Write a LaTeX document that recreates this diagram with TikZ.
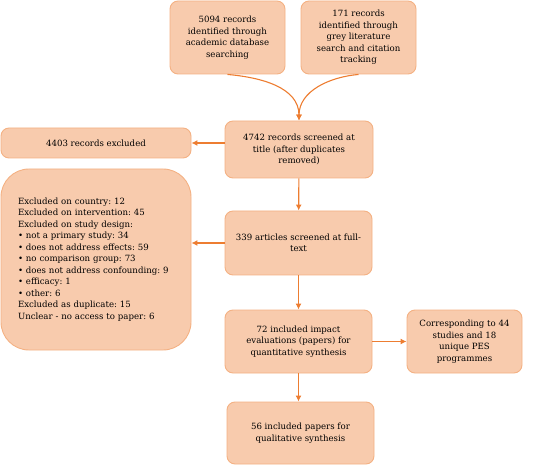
\documentclass[tikz,border=0pt]{standalone}
\usepackage{fontspec}
\setmainfont{DejaVu Serif}
\usepackage{tikz}
\usetikzlibrary{calc,positioning,arrows.meta}
\definecolor{peach}{HTML}{F8CBAD}
\definecolor{peachline}{HTML}{F4B183}
\definecolor{arrorange}{HTML}{ED7D31}
\frenchspacing

\begin{document}
\begin{tikzpicture}[x=1pt,y=-1pt, font=\fontsize{8.6}{11.5}\selectfont,
  box/.style={draw=peachline,fill=peach,line width=0.9pt,rounded corners=8pt,align=center,inner sep=2pt},
  arr/.style={draw=arrorange,line width=1.1pt,-{Latex[length=6pt,width=6pt]}}]
              \useasboundingbox (0,0) rectangle (533,465);
              \node[box,minimum width=115,minimum height=73] (rec1) at (227.5,37.5) {5094 records\\identified through\\academic database\\searching};
              \node[box,minimum width=115,minimum height=73] (rec2) at (358.5,37.5) {171 records\\identified through\\grey literature\\search and citation\\tracking};

              \node[box,minimum width=148,minimum height=57] (screen) at (299,149.5) {4742 records screened at\\title (after duplicates\\removed)};
              \node[box,minimum width=190,minimum height=30] (excl) at (96,143) {4403 records excluded};

              \node[box,rounded corners=28pt,minimum width=190,minimum height=181,text width=156,align=left] (exclfull) at (96,259.5) {Excluded on country: 12\\
                Excluded on intervention: 45\\
                Excluded on study design:\\
                \textbullet\ not a primary study: 34\\
                \textbullet\ does not address effects: 59\\
                \textbullet\ no comparison group: 73\\
                \textbullet\ does not address confounding: 9\\
                \textbullet\ efficacy: 1\\
                \textbullet\ other: 6\\
                Excluded as duplicate: 15\\
                Unclear - no access to paper: 6};

              \node[box,minimum width=147,minimum height=64] (full) at (298.5,243) {339 articles screened at full-\\text};
              \node[box,minimum width=147,minimum height=63] (incl) at (298.5,341.5) {72 included impact\\evaluations (papers) for\\quantitative synthesis};
              \node[box,minimum width=115,minimum height=63] (corr) at (464.5,341.5) {Corresponding to 44\\studies and 18\\unique PES\\programmes};
              \node[box,minimum width=147,minimum height=62] (qual) at (300.5,433) {56 included papers for\\qualitative synthesis};

              \draw[arr] (rec1.south) to[out=-5,in=90] (screen.north);
              \draw[arr] (rec2.south) to[out=185,in=90] (screen.north);
              \draw[arr] (screen.west |- excl.east) -- (excl.east);
              \draw[arr] (screen) -- (full);
              \draw[arr] (full.west) -- (full.west -| exclfull.east);
              \draw[arr] (full) -- (incl);
              \draw[arr] (incl) -- (corr);
              \draw[arr] (incl.south) -- (incl.south |- qual.north);
            \end{tikzpicture}
\end{document}
